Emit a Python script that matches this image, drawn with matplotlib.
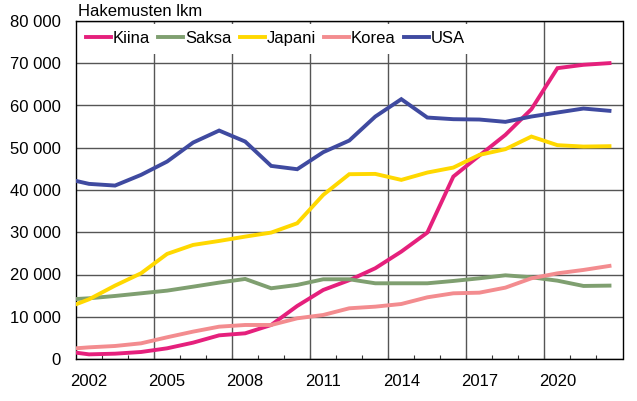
import matplotlib
matplotlib.use("Agg")
import matplotlib.pyplot as plt
from matplotlib.ticker import FuncFormatter, FixedLocator

plt.rcParams["font.family"] = ["Liberation Sans", "DejaVu Sans"]

# 2001 lies just outside the left edge of the axis (only the stub of each line shows)
years = list(range(2001, 2023))

kiina = [1900, 1100, 1260, 1660, 2530, 3870, 5600, 6080, 8050, 12550, 16340,
         18650, 21480, 25420, 29920, 43180, 48150, 53050, 59130, 68840, 69630, 70030]
saksa = [14030, 14370, 14920, 15550, 16180, 17120, 18080, 18950, 16740, 17530, 18870,
         18870, 17920, 17920, 17920, 18470, 19100, 19810, 19340, 18540, 17290, 17370]
japani = [11770, 14130, 17370, 20290, 24870, 27000, 27940, 28970, 29920, 32130, 38840,
          43740, 43810, 42390, 44130, 45310, 48310, 49660, 52650, 50610, 50280, 50370]
korea = [2300, 2760, 3080, 3710, 5140, 6480, 7650, 8050, 8050, 9630, 10420,
         12000, 12390, 13020, 14600, 15550, 15700, 16890, 19100, 20280, 21080, 22030]
usa = [42850, 41450, 41050, 43580, 46730, 51230, 54070, 51470, 45700, 44920, 48950,
       51700, 57380, 61500, 57150, 56760, 56680, 56130, 57390, 58340, 59280, 58740]

series = [
    ("Kiina", kiina, "#e5207c"),
    ("Saksa", saksa, "#7f9f70"),
    ("Japani", japani, "#ffd800"),
    ("Korea", korea, "#f38c8f"),
    ("USA", usa, "#3f4aa0"),
]

tick_years = [2002, 2005, 2008, 2011, 2014, 2017, 2020]

fig = plt.figure(figsize=(6.37, 4.01), dpi=100)
ax = fig.add_axes([76 / 637, 42 / 401, 546.5 / 637, 338 / 401])

# gridlines on category boundaries
for y in tick_years[1:]:
    ax.axvline(y - 0.5, color="#555555", lw=1.0, zorder=1)
ax.yaxis.grid(True, color="#555555", lw=1.0, zorder=1)
ax.set_axisbelow(True)

for name, vals, col in series:
    ax.plot(years, vals, color=col, lw=2.8, label=name, zorder=3,
            solid_joinstyle="miter")

ax.set_xlim(2001.5, 2022.5)
ax.set_ylim(0, 80000)
ax.set_yticks(range(0, 80001, 10000))
ax.yaxis.set_major_formatter(FuncFormatter(lambda v, p: f"{v:,.0f}".replace(",", " ")))
ax.set_xticks(tick_years)
ax.set_xticklabels([str(y) for y in tick_years])
ax.xaxis.set_minor_locator(FixedLocator([y + 0.5 for y in range(2002, 2022)]))
ax.tick_params(axis="x", which="major", length=0, pad=11, labelsize=12)
ax.tick_params(axis="x", which="minor", direction="in", length=3, width=0.8,
               color="#333333")
ax.tick_params(axis="y", length=0, pad=11, labelsize=12)

for s in ax.spines.values():
    s.set_color("black")
    s.set_linewidth(1.0)

leg = ax.legend(loc="upper left", bbox_to_anchor=(0.0, 1.0), ncol=5,
                frameon=True, fancybox=False, framealpha=1, edgecolor="none",
                facecolor="white", fontsize=12, handlelength=1.5,
                handletextpad=0.1, columnspacing=0.5, borderpad=0.45,
                borderaxespad=0.15)

fig.text(78 / 637, 1 - 16 / 401, "Hakemusten lkm", fontsize=12, va="baseline",
         ha="left")

fig.savefig("out.png", dpi=100)
